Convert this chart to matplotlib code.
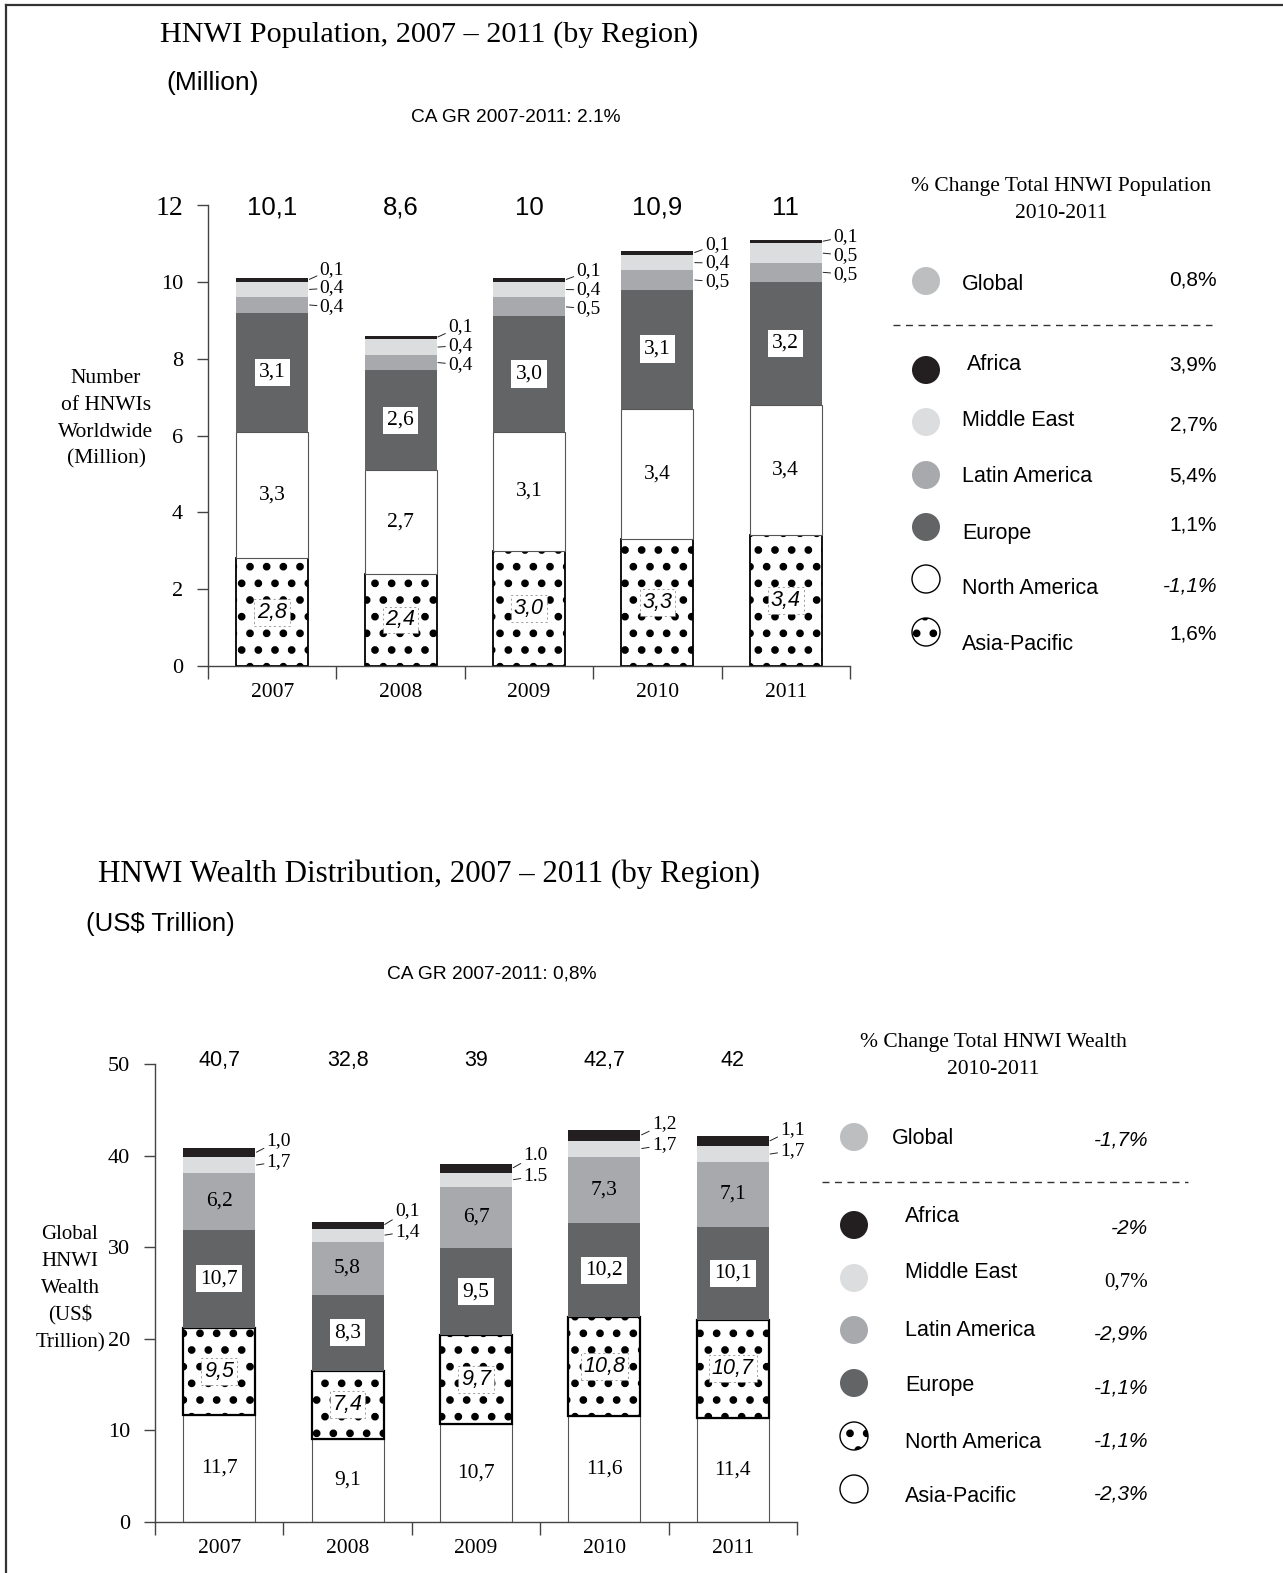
import matplotlib.pyplot as plt
import numpy as np
from matplotlib.patches import Circle
from matplotlib.lines import Line2D

SERIF = 'Liberation Serif'
SANS = 'Liberation Sans'

plt.rcParams['hatch.linewidth'] = 3.1

years = ['2007', '2008', '2009', '2010', '2011']

# HNWI population, million (stack order bottom -> top)
pop_asia = [2.8, 2.4, 3.0, 3.3, 3.4]
pop_namerica = [3.3, 2.7, 3.1, 3.4, 3.4]
pop_europe = [3.1, 2.6, 3.0, 3.1, 3.2]
pop_latam = [0.4, 0.4, 0.5, 0.5, 0.5]
pop_mideast = [0.4, 0.4, 0.4, 0.4, 0.5]
pop_africa = [0.1, 0.1, 0.1, 0.1, 0.1]
pop_totals = ['10,1', '8,6', '10', '10,9', '11']
pop_legend = ['Global', 'Africa', 'Middle East', 'Latin America', 'Europe',
              'North America', 'Asia-Pacific']
pop_change = ['0,8%', '3,9%', '2,7%', '5,4%', '1,1%', '-1,1%', '1,6%']

# HNWI wealth, US$ trillion (stack order bottom -> top)
w_asia = [11.7, 9.1, 10.7, 11.6, 11.4]
w_namerica = [9.5, 7.4, 9.7, 10.8, 10.7]
w_europe = [10.7, 8.3, 9.5, 10.2, 10.1]
w_latam = [6.2, 5.8, 6.7, 7.3, 7.1]
w_mideast = [1.7, 1.4, 1.5, 1.7, 1.7]
w_africa = [1.0, 0.8, 1.0, 1.2, 1.1]
w_mideast_txt = ['1,7', '1,4', '1.5', '1,7', '1,7']
w_africa_txt = ['1,0', '0,1', '1.0', '1,2', '1,1']
w_totals = ['40,7', '32,8', '39', '42,7', '42']
w_legend = ['Global', 'Africa', 'Middle East', 'Latin America', 'Europe',
            'North America', 'Asia-Pacific']
w_change = ['-1,7%', '-2%', '0,7%', '-2,9%', '-1,1%', '-1,1%', '-2,3%']

C_AFRICA = '#231f20'
C_ME = '#dcddde'
C_LA = '#a7a9ac'
C_EU = '#636466'
C_GLOBAL = '#bcbec0'
W = 0.56


def fmt(v):
    return f'{v:.1f}'.replace('.', ',')


def style_axes(ax, ymax, step):
    for s in ['top', 'right']:
        ax.spines[s].set_visible(False)
    for s in ['left', 'bottom']:
        ax.spines[s].set_color('#444')
        ax.spines[s].set_linewidth(1)
    ax.set_xlim(-0.5, 4.5)
    ax.set_ylim(0, ymax)
    ax.set_yticks(np.arange(0, ymax + 1, step))
    ax.set_yticklabels([str(int(v)) for v in np.arange(0, ymax + 1, step)],
                       family=SERIF, fontsize=16)
    ax.tick_params(axis='y', direction='out', length=8, width=1, color='#444', pad=10)
    ax.set_xticks(range(5))
    ax.set_xticklabels(years, family=SERIF, fontsize=15.5)
    ax.set_xticks(np.arange(-0.5, 5, 1), minor=True)
    ax.tick_params(axis='x', which='major', length=0, pad=12)
    ax.tick_params(axis='x', which='minor', direction='out', length=9, width=1, color='#444')


def stack(ax, series, styles):
    x = np.arange(5)
    bottom = np.zeros(5)
    out = []
    for vals, st in zip(series, styles):
        vals = np.array(vals)
        ax.bar(x, vals, W, bottom=bottom, **st)
        out.append((vals, bottom.copy()))
        bottom = bottom + vals
    return out


def side_labels(ax, segs, texts, first_off, gap):
    # segs/texts ordered from lowest to highest small segment
    for i in range(5):
        ly = None
        for (vals, bot), txt in zip(segs, texts):
            yc = bot[i] + vals[i] / 2
            ly = yc + first_off if ly is None else ly + gap
            ax.annotate(txt[i], xy=(i + W / 2, yc), xytext=(i + W / 2 + 0.09, ly),
                        ha='left', va='center', family=SERIF, fontsize=14,
                        arrowprops=dict(arrowstyle='-', lw=0.7, color='#222',
                                        shrinkA=0, shrinkB=1))


fig = plt.figure(figsize=(12.83, 15.73), dpi=100)

# ---------------- population chart ----------------
ax1 = fig.add_axes([208 / 1283, 1 - 666 / 1573, 642 / 1283, 461 / 1573])
segs1 = stack(ax1,
              [pop_asia, pop_namerica, pop_europe, pop_latam, pop_mideast, pop_africa],
              [dict(color='white', edgecolor='black', hatch='.', linewidth=1.3),
               dict(color='white', edgecolor='#555', linewidth=0.8),
               dict(color=C_EU, linewidth=0),
               dict(color=C_LA, linewidth=0),
               dict(color=C_ME, linewidth=0),
               dict(color=C_AFRICA, linewidth=0)])
style_axes(ax1, 12, 2)

ap_box = dict(fc='white', ec='#777', ls=(0, (3, 4)), lw=0.5, pad=2)
for i in range(5):
    v, b = segs1[0]
    ax1.text(i, b[i] + v[i] / 2, fmt(v[i]), ha='center', va='center', family=SANS,
             style='italic', fontsize=15.5, bbox=ap_box)
    v, b = segs1[1]
    ax1.text(i, b[i] + v[i] / 2, fmt(v[i]), ha='center', va='center', family=SERIF,
             fontsize=15.5)
    v, b = segs1[2]
    ax1.text(i, b[i] + v[i] / 2, fmt(v[i]), ha='center', va='center', family=SERIF,
             fontsize=15.5, bbox=dict(fc='white', ec='none', pad=3))
    ax1.text(i, 11.93, pop_totals[i], ha='center', va='center', family=SANS,
             fontsize=18.5, clip_on=False)

side_labels(ax1, segs1[3:], [[fmt(v) for v in pop_latam],
                             [fmt(v) for v in pop_mideast],
                             [fmt(v) for v in pop_africa]], -0.05, 0.49)

# ---------------- wealth chart ----------------
ax2 = fig.add_axes([155 / 1283, 1 - 1522 / 1573, 642 / 1283, 458 / 1573])
segs2 = stack(ax2,
              [w_asia, w_namerica, w_europe, w_latam, w_mideast, w_africa],
              [dict(color='white', edgecolor='#555', linewidth=0.8),
               dict(color='white', edgecolor='black', hatch='.', linewidth=1.6),
               dict(color=C_EU, linewidth=0),
               dict(color=C_LA, linewidth=0),
               dict(color=C_ME, linewidth=0),
               dict(color=C_AFRICA, linewidth=0)])
style_axes(ax2, 50, 10)

for i in range(5):
    v, b = segs2[0]
    ax2.text(i, b[i] + v[i] / 2, fmt(v[i]), ha='center', va='center', family=SERIF,
             fontsize=15.5)
    v, b = segs2[1]
    ax2.text(i, b[i] + v[i] / 2, fmt(v[i]), ha='center', va='center', family=SANS,
             style='italic', fontsize=15.5, bbox=ap_box)
    v, b = segs2[2]
    ax2.text(i, b[i] + v[i] / 2, fmt(v[i]), ha='center', va='center', family=SERIF,
             fontsize=15.5, bbox=dict(fc='white', ec='none', pad=3))
    v, b = segs2[3]
    ax2.text(i, b[i] + v[i] / 2, fmt(v[i]), ha='center', va='center', family=SERIF,
             fontsize=15.5)
    ax2.text(i, 50.4, w_totals[i], ha='center', va='center', family=SANS,
             fontsize=15.5, clip_on=False)

side_labels(ax2, segs2[4:], [w_mideast_txt, w_africa_txt], 0.4, 2.3)

# ---------------- overlay: titles, legends, frame ----------------
ov = fig.add_axes([0, 0, 1, 1], zorder=-1)
ov.set_xlim(0, 1283)
ov.set_ylim(1573, 0)
ov.axis('off')

ov.text(160, 35, 'HNWI Population, 2007 \u2013 2011 (by Region)', family=SERIF,
        fontsize=21.8, va='center', ha='left')
ov.text(166, 83, '(Million)', family=SANS, fontsize=19, va='center')
ov.text(516, 118, 'CA GR 2007-2011: 2.1%', family=SANS, fontsize=13.8,
        ha='center', va='center')
ov.text(106, 419, 'Number\nof HNWIs\nWorldwide\n(Million)', family=SERIF,
        fontsize=15.5, ha='center', va='center', linespacing=1.55)

ov.text(98, 874, 'HNWI Wealth Distribution, 2007 \u2013 2011 (by Region)', family=SERIF,
        fontsize=22.3, va='center', ha='left')
ov.text(86, 924, '(US$ Trillion)', family=SANS, fontsize=18.5, va='center')
ov.text(492, 974, 'CA GR 2007-2011: 0,8%', family=SANS, fontsize=13.8,
        ha='center', va='center')
ov.text(70, 1289, 'Global\nHNWI\nWealth\n(US$\nTrillion)', family=SERIF,
        fontsize=15, ha='center', va='center', linespacing=1.55)

dotted = dict(fc='white', ec='black', lw=1.0, hatch='.')
swatch_pop = [dict(fc=C_GLOBAL, ec='none'), dict(fc=C_AFRICA, ec='none'),
              dict(fc=C_ME, ec='none'), dict(fc=C_LA, ec='none'),
              dict(fc=C_EU, ec='none'), dict(fc='white', ec='black', lw=1.0), dotted]
swatch_w = swatch_pop[:5] + [dotted, dict(fc='white', ec='black', lw=1.0)]


def legend_block(title, tx, ty, cx, cys, lxs, lys, vx, vys, names, vals, swatches,
                 italic_vals, serif_vals, dash_y, dash_x):
    ov.text(tx, ty, title, family=SERIF, fontsize=15.5, ha='center', va='center',
            linespacing=1.6)
    ov.plot(dash_x, [dash_y, dash_y], color='#333', lw=1.0, ls=(0, (5, 4)))
    for k in range(len(names)):
        ov.add_patch(Circle((cx, cys[k]), 14, **swatches[k]))
        ov.text(lxs[k], lys[k], names[k], family=SANS, fontsize=15.5, va='center')
        ov.text(vx, vys[k], vals[k], family=SERIF if k in serif_vals else SANS,
                style='italic' if k in italic_vals else 'normal',
                fontsize=15, ha='right', va='center')


legend_block('% Change Total HNWI Population\n2010-2011', 1061, 200, 926,
             [281, 370, 422, 475, 527, 579, 632],
             [962, 967, 962, 962, 962, 962, 962],
             [284, 364, 420, 477, 533, 589, 644],
             1217, [280, 365, 425, 476, 525, 586, 634],
             pop_legend, pop_change, swatch_pop, [5], [], 325, [893, 1212])

legend_block('% Change Total HNWI Wealth\n2010-2011', 993, 1056, 854,
             [1137, 1225, 1278, 1330, 1383, 1436, 1489],
             [892, 905, 905, 905, 905, 905, 905],
             [1139, 1216, 1273, 1330, 1386, 1442, 1496],
             1148, [1140, 1229, 1282, 1334, 1388, 1441, 1494],
             w_legend, w_change, swatch_w, [0, 1, 3, 4, 5, 6], [2], 1182, [822, 1188])

fig.add_artist(Line2D([6 / 1283, 1], [1 - 5 / 1573] * 2, transform=fig.transFigure,
                      color='#333', lw=1.6))
fig.add_artist(Line2D([6 / 1283] * 2, [0, 1 - 5 / 1573], transform=fig.transFigure,
                      color='#333', lw=1.6))

# top tick label of the population chart is printed larger in the original
fig.canvas.draw()
for lbl in ax1.get_yticklabels():
    if lbl.get_text() == '12':
        lbl.set_fontsize(20)

fig.savefig('out.png', dpi=100, facecolor='white')
